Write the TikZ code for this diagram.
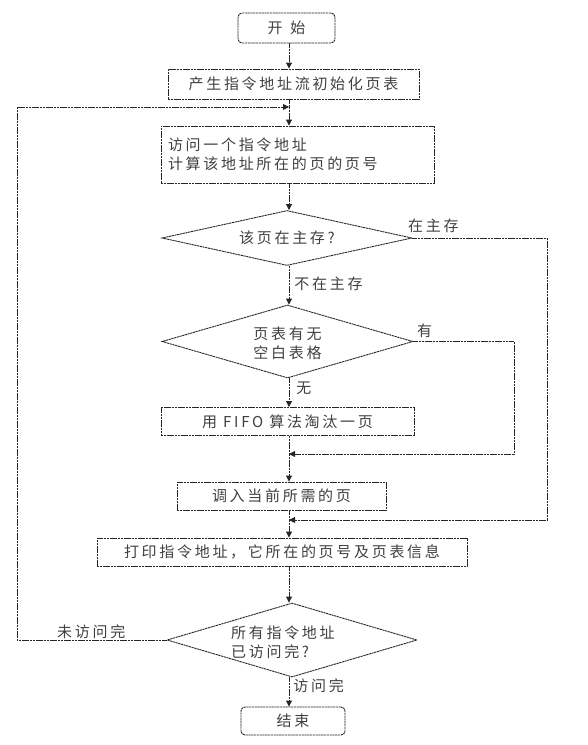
\documentclass[tikz,border=0pt]{standalone}
\usepackage{fontspec}
\setmainfont{Noto Sans CJK SC}
\usetikzlibrary{shapes.geometric,arrows.meta}
\begin{document}
\begin{tikzpicture}[x=1pt,y=-1pt,
  lin/.style={draw=black!85, line width=0.9pt, dash pattern=on 2.2pt off 0.6pt},
  txt/.style={font=\fontsize{15}{19}\selectfont\addfontfeature{LetterSpace=18}, text=black!75},
  boxst/.style={lin, txt, rectangle, inner sep=0pt},
  term/.style={boxst, rounded corners=4pt},
  dec/.style={lin, diamond, inner sep=0pt},
  lab/.style={txt, inner sep=0pt},
  arr/.style={lin, -{Triangle[length=6pt,width=6pt]}}
]
\useasboundingbox (0,0) rectangle (588,745);
\coordinate (spine) at (289,0);
\node[term, minimum width=97, minimum height=30] (start) at (286.5,28) {开\hspace{8pt}始};
\node[boxst, minimum width=251, minimum height=30] (init) at (293.5,84) {产生指令地址流初始化页表};
\node[boxst, minimum width=273, minimum height=57, align=left, text width=259] (access) at (297.5,154.5) {访问一个指令地址\\计算该地址所在的页的页号};
\node[dec, minimum width=250, minimum height=55] (d1) at (287,238) {};
\node[lab] (d1t) at (287,238) {该页在主存?};
\node[dec, minimum width=251, minimum height=73] (d2) at (287.5,341.5) {};
\node[lab, align=center] (d2t) at (287.5,343) {页表有无\\空白表格};
\node[boxst, minimum width=253, minimum height=28] (fifo) at (287.5,421.5) {用 FIFO 算法淘汰一页};
\node[boxst, minimum width=209, minimum height=28] (load) at (281.5,496) {调入当前所需的页};
\node[boxst, minimum width=370, minimum height=28] (print) at (282,552) {打印指令地址，它所在的页号及页表信息};
\node[dec, minimum width=250, minimum height=74] (d3) at (292,640) {};
\node[lab, align=left, anchor=west] (d3t) at (231,642) {所有指令地址\\已访问完?};
\node[term, minimum width=104, minimum height=28] (stop) at (293,721) {结束};

\coordinate (m1) at (289,454);
\coordinate (m2) at (289,520);
\coordinate (fb) at (289,107);
\coordinate (r1) at (547,238);
\coordinate (r2) at (514,341.5);
\coordinate (l1) at (17,640);

\draw[arr] (start.south -| spine) -- (init.north -| spine);
\draw[lin] (init.south -| spine) -- (fb);
\draw[arr] (fb) -- (access.north -| spine);
\draw[arr] (access.south -| spine) -- (d1.north -| spine);
\draw[arr] (d1.south -| spine) -- node[lab, anchor=west, xshift=5pt, pos=0.45] {不在主存} (d2.north -| spine);
\draw[arr] (d2.south -| spine) -- node[lab, anchor=west, xshift=7pt, pos=0.35] {无} (fifo.north -| spine);
\draw[lin] (fifo.south -| spine) -- (m1);
\draw[arr] (m1) -- (load.north -| spine);
\draw[lin] (load.south -| spine) -- (m2);
\draw[arr] (m2) -- (print.north -| spine);
\draw[arr] (print.south -| spine) -- (d3.north -| spine);
\draw[arr] (d3.south -| spine) -- node[lab, anchor=west, xshift=4pt, pos=0.3] {访问完} (stop.north -| spine);

\draw[arr] (d1.east) -- (r1) -- (r1 |- m2) -- (m2);
\node[lab, anchor=south west] (yes1) at (408,233) {在主存};
\draw[arr] (d2.east) -- (r2) -- (r2 |- m1) -- (m1);
\node[lab, anchor=south west] (yes2) at (417,338) {有};
\draw[arr] (d3.west) -- (l1) -- (l1 |- fb) -- (fb);
\node[lab, anchor=south west] (no3) at (57,639) {未访问完};
\end{tikzpicture}
\end{document}
